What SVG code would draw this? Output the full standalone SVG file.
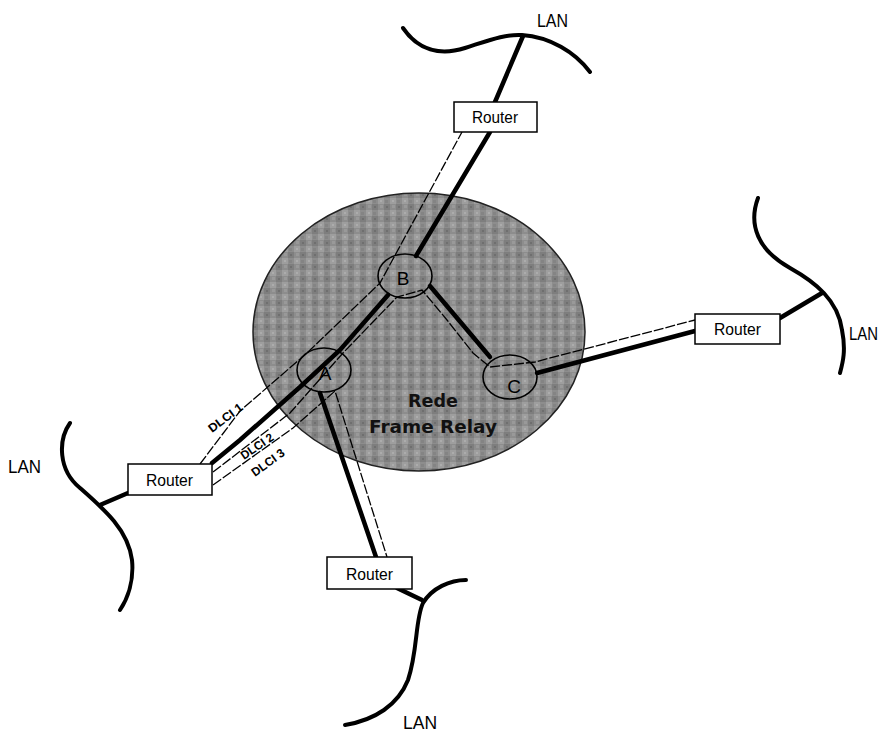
<svg xmlns="http://www.w3.org/2000/svg" width="883" height="734" viewBox="0 0 883 734">
<defs>
<pattern id="dither" width="12" height="12" patternUnits="userSpaceOnUse">
<rect width="12" height="12" fill="#8d8d8d"/>
<rect x="0" y="0" width="6" height="6" fill="#7e7e7e"/>
<rect x="6" y="6" width="6" height="6" fill="#9e9e9e"/>
<rect x="8" y="1" width="3" height="3" fill="#999"/>
<rect x="1" y="8" width="3" height="3" fill="#848484"/>
<rect x="2" y="2" width="2" height="2" fill="#6f6f6f"/>
<rect x="8" y="8" width="2" height="2" fill="#acacac"/>
</pattern>
<style>
.lan{fill:none;stroke:#000;stroke-width:4;stroke-linecap:round}
.thick{fill:none;stroke:#000;stroke-width:4.5;stroke-linecap:round}
.thin{fill:none;stroke:#000;stroke-width:1.3;stroke-dasharray:10 2}
.box{fill:#fff;stroke:#000;stroke-width:1.5}
.rt{font-family:"Liberation Sans",Arial,sans-serif;font-size:17px;fill:#000}
.lbl{font-family:"Liberation Sans",Arial,sans-serif;font-size:18px;fill:#000}
.node{fill:none;stroke:#000;stroke-width:1.6}
.nl{font-family:"Liberation Sans",Arial,sans-serif;font-size:19px;fill:#000;text-anchor:middle}
.dl{font-family:"Liberation Sans",Arial,sans-serif;font-size:12px;font-weight:bold;fill:#000}
.cl{font-family:"DejaVu Sans",sans-serif;font-size:17px;font-weight:bold;fill:#111;text-anchor:middle}
</style>
</defs>
<rect width="883" height="734" fill="#fff"/>

<g id="cloud">
<ellipse cx="419" cy="332" rx="166" ry="139" fill="url(#dither)" stroke="#222" stroke-width="1.5"/>
<text class="cl" x="433" y="407" textLength="50" lengthAdjust="spacingAndGlyphs">Rede</text>
<text class="cl" x="433" y="433" textLength="128" lengthAdjust="spacingAndGlyphs">Frame Relay</text>
</g>

<g id="connectors">
<path class="thick" d="M523,36 L495,102"/>
<path class="thick" d="M780,318 L822,293"/>
<path class="thick" d="M128,493 L100,505"/>
<path class="thick" d="M397,588 L422,600"/>
<path class="thick" d="M490,132 L416,256"/>
<path class="thick" d="M388,295 L340,350 L300,387 L240,440 L212,463"/>
<path class="thick" d="M430,286 L490,357"/>
<path class="thick" d="M537,373 L695,331"/>
<path class="thick" d="M320,393 L376,557"/>
<path id="dlci1" class="thin" d="M200,464 L240,411 L307,353 L380,283 L462,132"/>
<path id="dlci2" class="thin" d="M213,472 L290,413 L343,353 L397,297 L422,290 L447,320 L473,353 L490,367 L535,362 L695,320"/>
<path id="dlci3" class="thin" d="M213,485 L293,428 L335,391 L387,557"/>
</g>

<g id="lan-top">
<path class="lan" d="M403,28 C418,50 440,56 465,48 C490,40 505,34 522,35 C550,37 575,52 590,72"/>
<text class="lbl" x="537" y="27" textLength="31" lengthAdjust="spacingAndGlyphs">LAN</text>
</g>
<g id="lan-right">
<path class="lan" d="M758,198 C748,225 758,250 790,268 C815,282 838,300 842,330 C846,350 843,362 840,373"/>
<text class="lbl" x="849" y="340" textLength="29" lengthAdjust="spacingAndGlyphs">LAN</text>
</g>
<g id="lan-left">
<path class="lan" d="M70,423 C58,440 58,470 80,488 C105,510 128,530 132,560 C134,580 128,598 120,610"/>
<text class="lbl" x="8" y="473" textLength="33" lengthAdjust="spacingAndGlyphs">LAN</text>
</g>
<g id="lan-bottom">
<path class="lan" d="M466,580 C450,580 432,588 423,603 C415,620 418,650 408,680 C398,705 375,720 345,725"/>
<text class="lbl" x="403" y="729" textLength="34" lengthAdjust="spacingAndGlyphs">LAN</text>
</g>

<g id="router-top">
<rect class="box" x="454" y="102" width="83" height="30"/>
<text class="rt" x="472" y="123" textLength="46" lengthAdjust="spacingAndGlyphs">Router</text>
</g>
<g id="router-right">
<rect class="box" x="695" y="314" width="85" height="30"/>
<text class="rt" x="714" y="335" textLength="47" lengthAdjust="spacingAndGlyphs">Router</text>
</g>
<g id="router-left">
<rect class="box" x="128" y="464" width="84" height="31"/>
<text class="rt" x="146" y="486" textLength="47" lengthAdjust="spacingAndGlyphs">Router</text>
</g>
<g id="router-bottom">
<rect class="box" x="327" y="557" width="85" height="32"/>
<text class="rt" x="346" y="580" textLength="47" lengthAdjust="spacingAndGlyphs">Router</text>
</g>

<g id="node-A">
<ellipse class="node" cx="324" cy="370" rx="27" ry="22"/>
<text class="nl" x="325" y="380">A</text>
</g>
<g id="node-B">
<ellipse class="node" cx="405" cy="276" rx="27" ry="22"/>
<text class="nl" x="403" y="285">B</text>
</g>
<g id="node-C">
<ellipse class="node" cx="510" cy="377" rx="27" ry="22"/>
<text class="nl" x="514" y="393">C</text>
</g>

<g id="dlci-labels">
<text class="dl" transform="translate(212,433) rotate(-37)" textLength="40" lengthAdjust="spacingAndGlyphs">DLCI 1</text>
<text class="dl" transform="translate(244,460) rotate(-34)" textLength="37" lengthAdjust="spacingAndGlyphs">DLCI 2</text>
<text class="dl" transform="translate(255,477) rotate(-36)" textLength="38" lengthAdjust="spacingAndGlyphs">DLCI 3</text>
</g>
</svg>
